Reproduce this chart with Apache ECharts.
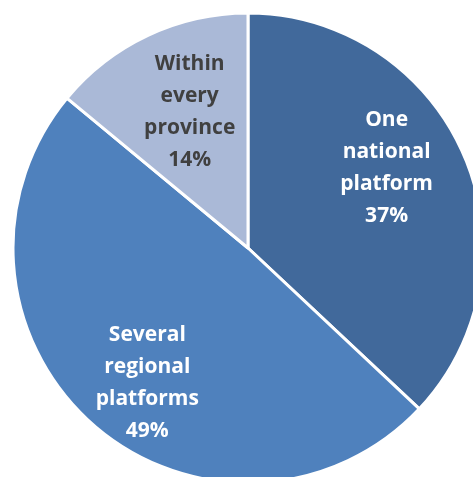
<!DOCTYPE html>
<html>
<head>
<meta charset="utf-8">
<style>
  html, body { margin: 0; padding: 0; background: #ffffff; }
  #chart { width: 473px; height: 477px; }
</style>
<script src="https://cdn.jsdelivr.net/npm/echarts@6/dist/echarts.min.js"></script>
</head>
<body>
<div id="chart"></div>
<script>
// Share of respondents by preferred platform arrangement
const categories = ['One\nnational\nplatform', 'Several\nregional\nplatforms', 'Within\nevery\nprovince'];
const shares = [37, 49, 14];

// Slice styling, in the same order as the categories
const sliceColors = ['#41699B', '#4F81BD', '#AAB9D7'];
const labelColors = ['#ffffff', '#ffffff', '#404040'];
const labelOffsets = [[28, -32], [-21, 45], [-7, -27]];

const chart = echarts.init(document.getElementById('chart'));

chart.setOption({
  animation: false,
  series: [{
    type: 'pie',
    center: [248, 248],
    radius: [0, 235],
    startAngle: 90,
    clockwise: true,
    avoidLabelOverlap: false,
    itemStyle: { borderColor: '#ffffff', borderWidth: 3 },
    label: {
      show: true,
      position: 'inside',
      fontFamily: 'Open Sans',
      fontWeight: 'bold',
      fontSize: 21,
      lineHeight: 32,
      align: 'center',
      formatter: p => p.name + '\n' + p.value + '%'
    },
    labelLine: { show: false },
    emphasis: { disabled: true },
    data: categories.map((name, i) => ({
      name: name,
      value: shares[i],
      itemStyle: { color: sliceColors[i] },
      label: { color: labelColors[i], offset: labelOffsets[i] }
    }))
  }]
});
</script>
</body>
</html>
